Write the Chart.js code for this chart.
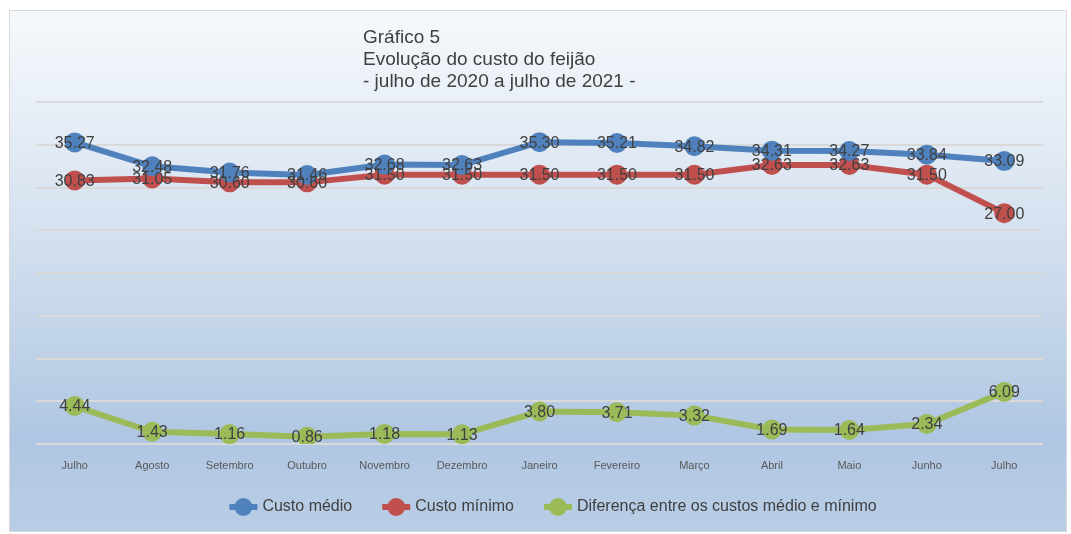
<!DOCTYPE html>
<html>
<head>
<meta charset="utf-8">
<script src="https://cdn.jsdelivr.net/npm/chart.js@4"></script>
<style>
  html, body { margin: 0; padding: 0; background: #ffffff; }
  #wrap {
    position: absolute; left: 9px; top: 10px; width: 1056px; height: 520px;
    border: 1px solid #d9d9d9;
    background: linear-gradient(to bottom, #f6f9fc 0%, #e3ebf5 25%, #c9d9eb 55%, #afc6e2 82%, #b9cde5 100%);
  }
  canvas { display: block; }
</style>
</head>
<body>
<div id="wrap"><canvas id="c" width="1056" height="520"></canvas></div>
<script>
const categories = ["Julho","Agosto","Setembro","Outubro","Novembro","Dezembro","Janeiro","Fevereiro","Março","Abril","Maio","Junho","Julho"];
const custoMedio = [35.27, 32.48, 31.76, 31.46, 32.68, 32.63, 35.30, 35.21, 34.82, 34.31, 34.27, 33.84, 33.09];
const custoMinimo = [30.83, 31.05, 30.60, 30.60, 31.50, 31.50, 31.50, 31.50, 31.50, 32.63, 32.63, 31.50, 27.00];
const diferenca = [4.44, 1.43, 1.16, 0.86, 1.18, 1.13, 3.80, 3.71, 3.32, 1.69, 1.64, 2.34, 6.09];
const seriesNames = ["Custo médio", "Custo mínimo", "Diferença entre os custos médio e mínimo"];
const titleLines = ["Gráfico 5", "Evolução do custo do feijão", "- julho de 2020 a julho de 2021 -"];
const yMin = 0, yMax = 40, yStep = 5;

const colors = ["#4f81bd", "#c0504d", "#9bbb59"];
const FONT = '"Liberation Sans", Arial, sans-serif';

function ds(label, data, color) {
  return {
    label, data,
    borderColor: color, backgroundColor: color,
    pointBackgroundColor: color, pointBorderColor: color,
    borderWidth: 6, pointRadius: 7, pointHoverRadius: 7,
    tension: 0, fill: false
  };
}

const labelPlugin = {
  id: 'valueLabels',
  afterDatasetsDraw(chart) {
    const ctx = chart.ctx;
    ctx.save();
    ctx.font = '16px ' + FONT;
    ctx.fillStyle = '#404040';
    ctx.textAlign = 'center';
    ctx.textBaseline = 'middle';
    chart.data.datasets.forEach((d, i) => {
      const meta = chart.getDatasetMeta(i);
      meta.data.forEach((pt, j) => {
        ctx.fillText(d.data[j].toFixed(2), pt.x, pt.y + 1);
      });
    });
    ctx.restore();
  }
};

const titlePlugin = {
  id: 'leftTitle',
  afterDraw(chart) {
    const ctx = chart.ctx;
    ctx.save();
    ctx.font = '19px ' + FONT;
    ctx.fillStyle = '#404040';
    ctx.textAlign = 'left';
    ctx.textBaseline = 'alphabetic';
    titleLines.forEach((t, i) => ctx.fillText(t, 353, 32 + i * 22));
    ctx.restore();
  }
};

const legendPlugin = {
  id: 'customLegend',
  afterDraw(chart) {
    const ctx = chart.ctx;
    ctx.save();
    ctx.font = '16px ' + FONT;
    const markerW = 28, gap = 5, spacing = 30;
    const widths = seriesNames.map(n => ctx.measureText(n).width);
    let total = widths.reduce((a, b) => a + b, 0) + seriesNames.length * (markerW + gap) + spacing * (seriesNames.length - 1);
    let x = (chart.width - total) / 2 + 15;
    const y = 496;
    seriesNames.forEach((n, i) => {
      ctx.strokeStyle = colors[i];
      ctx.fillStyle = colors[i];
      ctx.lineWidth = 6;
      ctx.beginPath();
      ctx.moveTo(x, y);
      ctx.lineTo(x + markerW, y);
      ctx.stroke();
      ctx.beginPath();
      ctx.arc(x + markerW / 2, y, 9, 0, Math.PI * 2);
      ctx.fill();
      ctx.fillStyle = '#404040';
      ctx.textAlign = 'left';
      ctx.textBaseline = 'middle';
      ctx.fillText(n, x + markerW + gap, y);
      x += markerW + gap + widths[i] + spacing;
    });
    ctx.restore();
  }
};

new Chart(document.getElementById('c'), {
  type: 'line',
  data: {
    labels: categories,
    datasets: [
      ds(seriesNames[0], custoMedio, colors[0]),
      ds(seriesNames[1], custoMinimo, colors[1]),
      ds(seriesNames[2], diferenca, colors[2])
    ]
  },
  options: {
    responsive: false,
    animation: false,
    layout: { padding: { left: 26, right: 23, top: 91, bottom: 57 } },
    plugins: {
      legend: { display: false },
      title: { display: false },
      tooltip: { enabled: false }
    },
    scales: {
      x: {
        offset: true,
        grid: { display: false, drawTicks: false },
        border: { display: false },
        ticks: { color: '#595959', font: { family: FONT, size: 11 }, padding: 15, maxRotation: 0, autoSkip: false },
        afterFit(s) { s.height = 30; }
      },
      y: {
        min: yMin, max: yMax,
        ticks: { display: false, stepSize: yStep },
        grid: { color: '#d9d9d9', lineWidth: 2, drawTicks: false },
        border: { display: false },
        afterFit(s) { s.width = 0; }
      }
    }
  },
  plugins: [labelPlugin, titlePlugin, legendPlugin]
});
</script>
</body>
</html>
